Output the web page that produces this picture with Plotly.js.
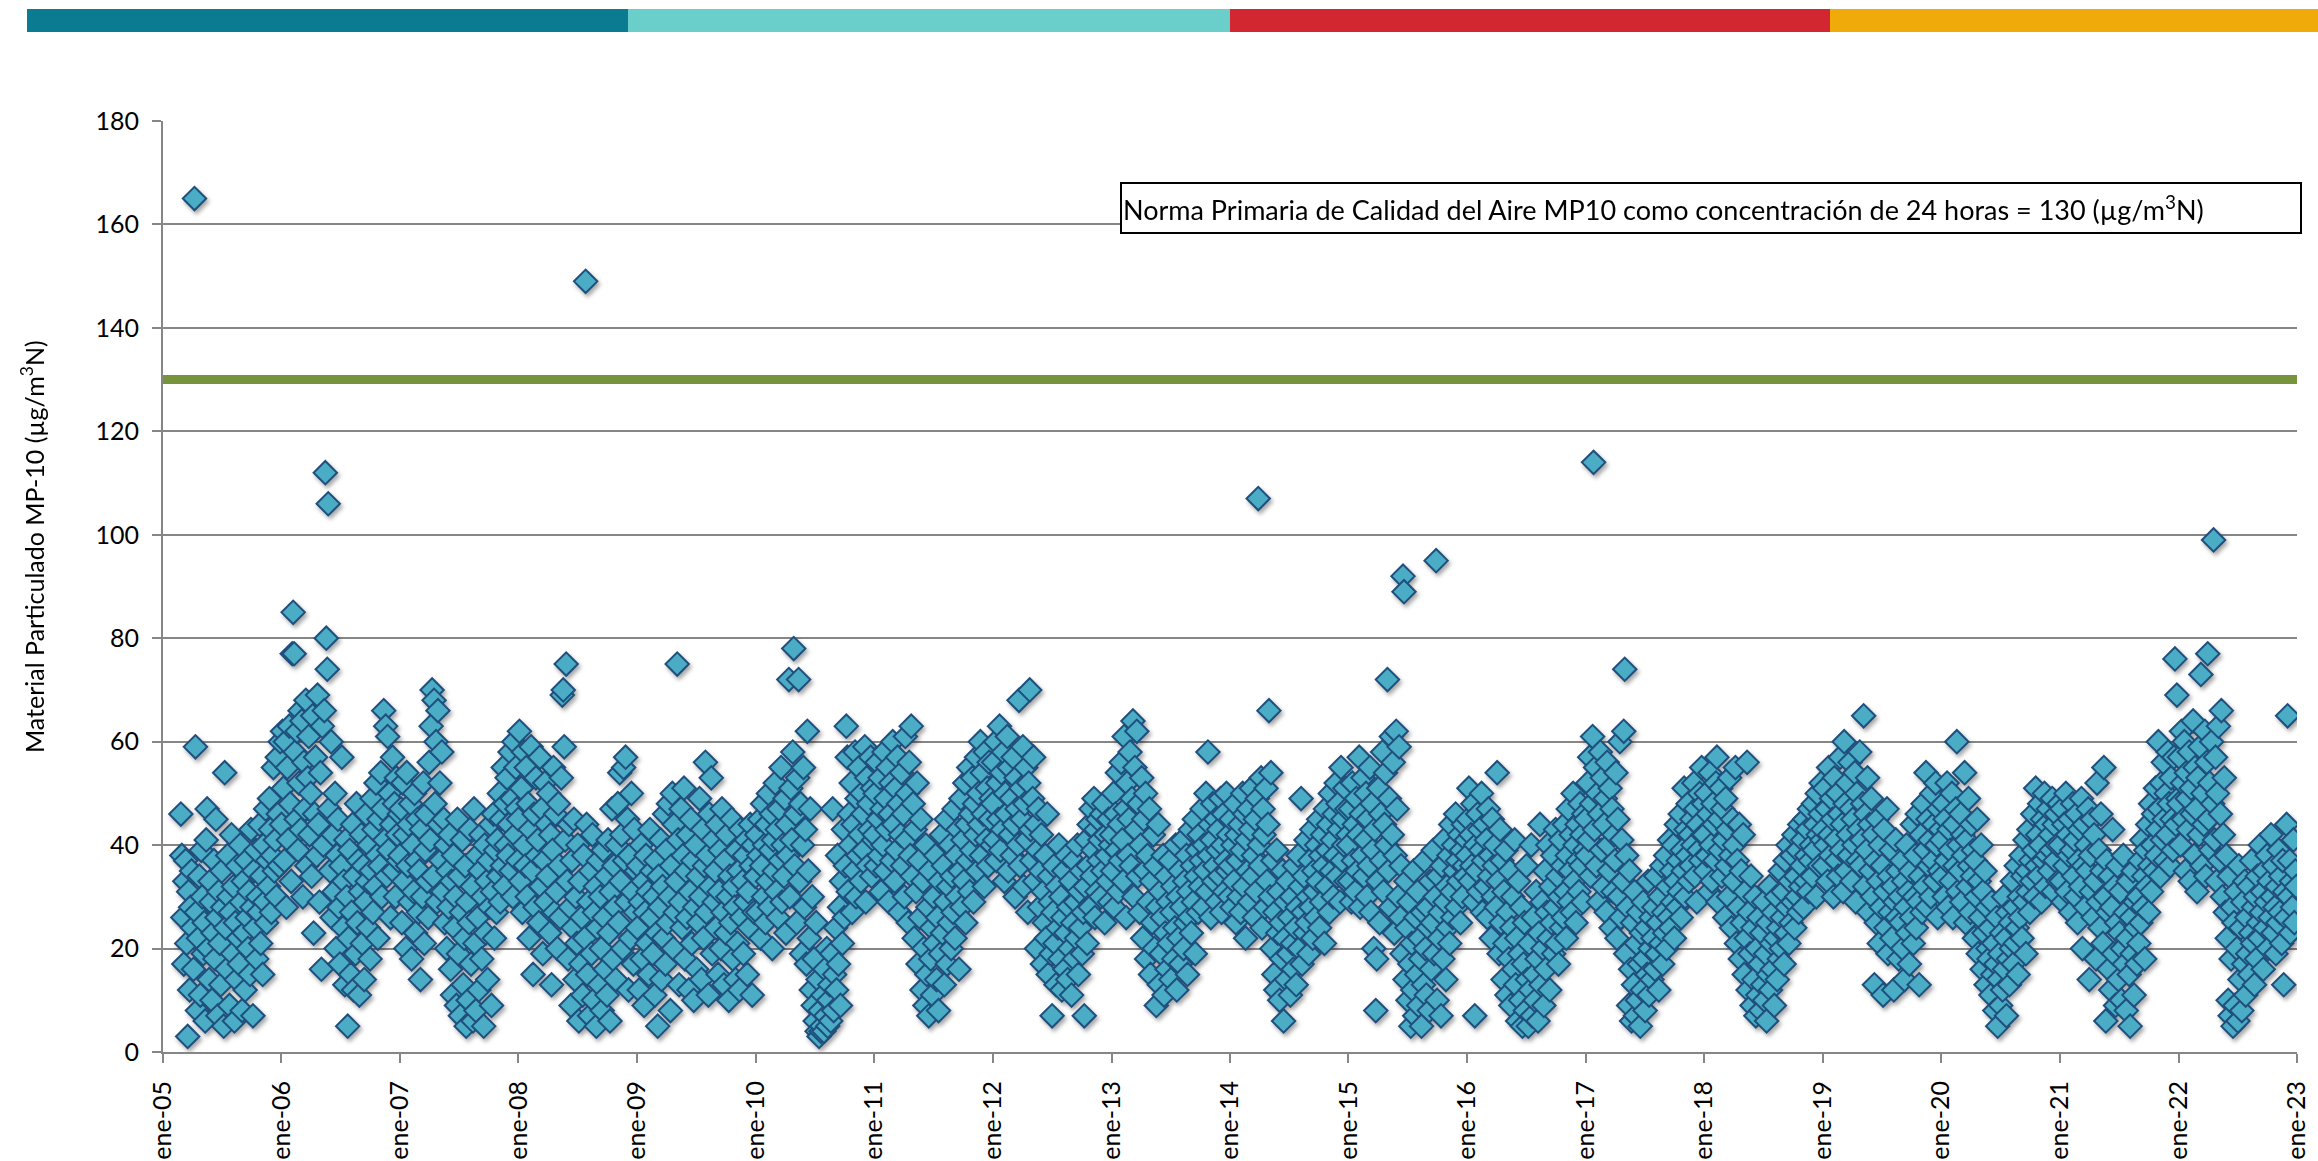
<!DOCTYPE html>
<html>
<head>
<meta charset="utf-8">
<script src="https://cdn.plot.ly/plotly-3.0.1.min.js"></script>
<style>
  html, body { margin: 0; padding: 0; background: #ffffff; }
  #chart { width: 2318px; height: 1161px; }
  .scatterlayer .trace:last-child .points { filter: drop-shadow(2px 3px 2px rgba(0,0,0,0.35)); }
</style>
</head>
<body>
<div id="chart"></div>
<script>
// ---------------- DATA ----------------
// MP-10 24-h concentrations (µg/m3N), one sample every 3 days, per year.
const SAMPLE_STEP_DAYS = 3;
const yearStarts = ['2005-02-25','2006-01-01','2007-01-01','2008-01-01','2009-01-01','2010-01-01',
  '2011-01-01','2012-01-01','2013-01-01','2014-01-01','2015-01-01','2016-01-01','2017-01-01',
  '2018-01-01','2019-01-01','2020-01-01','2021-01-01','2022-01-01'];

const mp10_2005 = [46,38,26,17,33,37,21,3,31,12, 28,35,24,16,165,59,27,8,22,34, 11,39,30,19,25,6,41,47,20,14,
  33,29,10,23,37,18,45,26,7,31, 21,13,35,28,5,54,24,16,38,30, 9,27,42,19,32,6,25,14,36,22,
  17,40,29,8,33,23,12,37,26,20, 31,15,43,28,7,35,24,39,18,30, 27,44,21,34,15,40,29,47,25,37,
  32,49,43,27,38,55,35,41,30,57,46,36,60];
const mp10_2006 = [44,62,51,37,60,28,55,41,63,48, 33,77,85,77,58,45,62,39,52,66, 43,64,30,56,47,68,36,53,61,42,
  50,34,65,23,46,57,38,69,44,29, 54,16,63,40,66,112,80,74,106,47, 35,60,26,42,31,50,20,38,45,28,
  17,36,57,24,33,13,41,30,5,22, 39,15,27,44,12,34,19,48,25,37, 11,31,42,21,36,14,29,46,33,24,
  40,18,35,49,27,43,32,52,38,22, 45,36,54,30,47,66,41,63,34,61, 39,50,26,44,57,35,48,30,53,42,37,46];
const mp10_2007 = [38,47,25,52,33,42,20,54,36,44, 29,48,18,40,31,50,23,37,45,27, 35,14,43,30,52,21,39,46,33,26,
  56,41,63,70,34,68,48,60,29,66, 44,52,37,58,31,45,25,40,20,35, 28,42,16,33,11,38,24,30,9,45,
  19,34,7,27,41,13,22,36,5,29, 10,25,43,17,32,6,47,21,8,38, 26,12,35,42,18,30,5,40,23,33,
  14,37,28,44,9,31,46,22,39,27, 41,34,50,29,45,36,55,32,48,40, 53,38,44,58,35,49,30,60,42,55,47,37];
const mp10_2008 = [45,62,33,51,27,58,40,36,55,30, 48,22,43,59,35,15,46,28,53,38, 41,25,57,32,47,19,37,52,29,44,
  34,50,23,42,13,39,55,27,46,31, 20,48,36,26,53,69,70,59,41,75, 33,18,44,28,9,37,24,45,14,30,
  21,40,6,33,17,26,11,38,22,149, 44,15,29,7,35,19,42,10,27,32, 5,24,37,13,30,20,8,39,26,16,
  34,11,41,23,6,31,47,18,36,28, 14,40,48,25,54,33,42,20,55,37, 57,29,45,12,38,22,50,31,17,43,27,35];
const mp10_2009 = [24,36,12,29,40,18,33,9,27,38, 21,31,15,43,26,35,19,30,11,37, 23,5,34,28,41,14,32,22,46,17,
  39,25,48,30,8,36,50,20,44,27, 33,75,41,13,29,47,24,38,51,18, 35,26,42,12,31,45,21,37,10,28,
  40,16,34,25,49,30,14,43,22,36, 56,27,38,11,46,32,53,19,41,29, 35,24,44,15,31,39,20,47,27,13,
  37,23,42,30,10,34,25,45,18,32, 28,14,39,21,35,12,43,26,33,19, 38,29,41,15,31,24,44,36,11,40,27,34];
const mp10_2010 = [34,42,27,38,45,22,36,48,30,40, 25,44,33,50,28,39,46,20,41,35, 52,31,43,26,47,37,55,29,40,34,
  49,23,44,38,72,30,51,41,58,78, 36,46,25,53,72,33,48,19,40,55, 28,43,17,62,35,22,47,12,30,9,
  18,6,25,4,14,3,8,4,5,11, 4,16,7,20,5,10,13,6,19,47, 8,15,24,12,38,17,28,9,33,21,
  43,26,36,63,57,31,46,40,52,27, 44,35,58,30,49,38,55,42,33,50, 46,39,59,29,53,36,48,43,57,34,51,41];
const mp10_2011 = [42,50,36,56,45,38,53,31,47,40, 58,35,49,43,55,29,46,52,37,60, 44,33,51,39,57,48,27,42,54,36,
  46,30,61,41,50,25,56,38,63,34, 48,22,43,31,52,17,37,26,45,12, 33,20,9,40,15,28,7,35,18,24,
  11,30,21,38,14,26,8,33,19,42, 23,36,13,29,45,17,32,25,40,20, 34,27,47,22,38,30,43,16,35,49,
  28,41,33,52,25,44,37,55,31,46, 39,53,29,48,42,57,35,50,44,60, 38,54,46,32,58,41,51,36,56,45,49,40];
const mp10_2012 = [48,56,41,60,37,52,45,63,39,54, 43,58,33,50,46,61,35,55,42,49, 38,57,44,30,53,47,40,68,36,51,
  45,59,32,48,55,41,27,52,70,43, 37,49,57,33,44,20,39,47,28,35, 42,17,31,25,38,22,46,15,34,29,
  19,7,27,36,21,13,32,24,40,18, 30,12,26,35,16,23,38,14,28,20, 33,11,25,37,18,29,22,40,15,31,
  24,35,19,27,7,32,41,21,36,44, 28,47,34,39,49,26,43,31,45,37, 41,30,46,35,48,25,42,38,33,45,29,40];
const mp10_2013 = [42,35,50,28,46,39,54,31,44,37, 56,41,33,61,47,26,52,38,45,58, 36,49,64,30,55,43,62,34,48,27,
  40,53,22,45,35,50,18,38,29,47, 15,33,25,42,20,36,9,28,44,13, 31,19,26,38,11,23,34,16,29,21,
  37,14,27,32,18,24,40,12,30,22, 35,17,28,41,20,33,25,38,15,31, 26,43,23,36,29,45,19,34,39,27,
  42,32,37,47,28,40,35,50,31,58, 38,44,26,41,48,33,36,45,29,39, 43,34,49,27,40,46,31,37,50,35,42,30];
const mp10_2014 = [36,45,28,40,33,48,25,42,37,30, 44,27,39,50,32,46,22,41,35,47, 29,43,51,34,38,26,45,31,49,107,
  40,36,53,24,47,42,28,51,33,44, 66,30,54,20,37,15,27,12,39,23, 31,10,25,18,35,6,22,29,14,33,
  19,26,11,30,21,16,36,24,13,28, 38,20,32,49,17,27,34,23,41,25, 30,19,37,28,43,22,35,31,26,40,
  33,45,24,38,29,42,36,21,47,32, 39,44,27,50,35,41,30,46,38,52, 34,48,43,29,55,37,45,40,51,33,47,42];
const mp10_2015 = [40,33,47,29,52,37,44,31,49,35, 42,57,28,46,38,53,34,41,50,30, 45,36,55,27,48,39,20,43,8,18,
  33,51,25,46,37,58,31,44,54,40, 72,35,49,28,61,42,56,23,38,62, 47,30,59,26,36,19,92,89,14,33,
  24,10,29,17,5,21,12,35,7,26, 15,31,9,22,18,5,27,13,37,20, 11,28,24,8,33,16,25,39,19,30,
  95,10,34,22,27,7,36,18,41,29, 14,32,24,38,21,44,31,26,40,35, 46,28,37,33,42,25,39,30,44,36,34,41];
const mp10_2016 = [38,45,51,33,42,36,48,29,7,40, 35,46,31,43,39,50,27,37,44,32, 41,26,47,34,38,22,45,30,36,40,
  28,54,33,19,43,25,37,14,31,21, 39,11,27,18,35,9,24,30,16,41, 13,22,6,33,19,10,28,5,17,25,
  8,36,14,5,21,12,40,7,26,15, 10,31,18,6,23,44,13,29,20,9, 35,16,27,40,22,12,32,25,38,19,
  28,43,21,34,17,30,41,24,36,26, 44,31,22,38,47,29,35,42,27,50, 33,40,25,44,37,31,48,36,42,29,46,39];
const mp10_2017 = [45,38,52,41,57,34,48,61,114,43, 55,36,50,29,46,58,39,53,32,44, 49,27,56,40,35,51,24,47,31,42,
  37,54,22,45,30,60,26,41,33,62, 74,19,38,28,9,35,16,6,25,13, 31,7,21,10,27,17,5,23,12,29,
  18,8,24,15,33,11,20,26,14,22, 28,16,34,19,25,12,30,21,36,17, 27,23,38,20,32,26,41,24,35,29,
  40,22,33,44,28,37,31,46,26,39, 35,51,30,43,38,48,33,42,36,45, 40,52,34,47,29,44,39,50,37,55,42,48];
const mp10_2018 = [42,35,50,38,46,31,54,40,33,48, 44,37,52,57,29,45,39,51,34,47, 41,26,49,36,43,30,53,38,24,45,
  33,40,55,21,37,28,44,18,35,25, 42,15,31,22,56,12,27,19,34,9, 24,14,30,7,20,11,26,17,8,23,
  13,29,10,19,6,25,15,32,12,21, 16,27,9,22,30,14,24,18,35,20, 26,31,17,37,23,28,40,21,33,25,
  38,29,42,24,34,30,39,27,44,32, 36,41,28,45,33,38,43,31,47,37, 40,34,48,39,44,30,50,42,36,46,52,41];
const mp10_2019 = [43,36,51,40,47,33,55,42,38,49, 45,30,53,41,37,50,34,46,57,39, 44,31,60,48,35,52,42,38,56,47,
  33,45,40,54,29,50,37,43,58,36, 41,48,65,32,46,39,53,27,44,35, 49,30,42,13,37,25,45,33,21,40,
  28,36,11,43,31,24,47,19,34,27, 39,22,32,12,29,41,26,35,18,30, 25,37,20,33,14,28,40,23,31,17,
  35,26,44,21,30,38,24,46,29,13, 34,42,27,48,32,39,54,28,45,36, 41,30,50,37,44,33,52,40,26,47,35,43];
const mp10_2020 = [41,34,48,30,45,37,52,28,43,39, 33,50,26,44,36,47,60,31,40,35, 46,29,42,38,54,25,41,32,49,36,
  27,44,34,39,22,37,30,45,19,33, 26,40,16,31,23,35,13,28,20,18, 24,11,29,15,21,8,17,26,5,14,
  19,9,23,12,30,16,22,7,27,18, 13,25,20,33,17,28,21,36,24,15, 30,26,38,22,34,29,41,19,35,31,
  43,27,37,33,46,39,30,51,36,42, 34,48,40,29,45,37,50,32,44,38, 47,35,42,39,49,31,44,37,46,40,33,48];
const mp10_2021 = [40,33,47,29,44,36,50,31,42,38, 45,27,39,48,34,41,30,46,25,37, 43,32,49,20,36,44,28,40,35,47,
  14,38,31,45,26,42,33,18,52,29, 39,24,46,35,21,55,30,6,37,27, 16,34,12,28,43,19,32,9,25,36,
  14,23,31,10,20,38,17,27,8,22, 33,15,5,26,19,35,11,29,24,17, 30,21,37,25,41,28,34,18,39,32,
  44,27,36,48,31,40,46,35,51,38, 43,60,47,34,52,41,56,45,37,50, 42,58,48,36,53,45,39,57,76,44,69,49];
const mp10_2022 = [48,57,40,62,52,45,60,35,54,49, 43,58,33,51,46,64,38,55,47,31, 53,42,59,73,36,50,44,62,34,56,
  77,45,52,39,60,48,99,41,57,33, 50,63,37,46,66,30,42,53,27,38, 22,10,34,7,18,28,5,25,9,31,
  20,6,36,14,24,8,29,17,33,11, 26,19,32,15,23,37,21,28,13,30, 18,34,25,22,40,27,31,16,35,24,
  29,38,20,33,26,42,30,23,36,28, 19,32,25,39,27,34,21,37,13,31, 26,44,65,30,37,23,33,28,41,25,35,32];

const yearlyValues = [mp10_2005, mp10_2006, mp10_2007, mp10_2008, mp10_2009, mp10_2010, mp10_2011,
  mp10_2012, mp10_2013, mp10_2014, mp10_2015, mp10_2016, mp10_2017, mp10_2018, mp10_2019,
  mp10_2020, mp10_2021, mp10_2022];

// Primary air-quality standard (24 h) for MP10
const normaValue = 130;
const normaSpan = ['2005-01-01', '2023-01-01'];

// x-axis ticks
const tickDates = ['2005-01-01','2006-01-01','2007-01-01','2008-01-01','2009-01-01','2010-01-01',
  '2011-01-01','2012-01-01','2013-01-01','2014-01-01','2015-01-01','2016-01-01','2017-01-01',
  '2018-01-01','2019-01-01','2020-01-01','2021-01-01','2022-01-01','2023-01-01'];
const tickLabels = ['ene-05','ene-06','ene-07','ene-08','ene-09','ene-10','ene-11','ene-12','ene-13',
  'ene-14','ene-15','ene-16','ene-17','ene-18','ene-19','ene-20','ene-21','ene-22','ene-23'];

const yTitle = 'Material Particulado MP-10 (µg/m<sup>3</sup>N)';
const normaText = 'Norma Primaria de Calidad del Aire MP10 como concentración de 24 horas = 130 (µg/m<sup>3</sup>N)';

// ---------------- BUILD ----------------
function sampleDates(start, n) {
  const t0 = Date.parse(start + 'T00:00:00Z');
  const out = [];
  for (let i = 0; i < n; i++) {
    out.push(new Date(t0 + i * SAMPLE_STEP_DAYS * 86400000).toISOString().slice(0, 10));
  }
  return out;
}
const xs = [], ys = [];
yearlyValues.forEach((vals, k) => {
  const d = sampleDates(yearStarts[k], vals.length);
  for (let i = 0; i < vals.length; i++) { xs.push(d[i]); ys.push(vals[i]); }
});

const FONT = 'Lato, "Open Sans", "DejaVu Sans", sans-serif';
const GRID = '#868686';

const traces = [
  {
    type: 'scatter', mode: 'lines',
    x: normaSpan, y: [normaValue, normaValue],
    line: { color: '#77933c', width: 9 },
    hoverinfo: 'skip', showlegend: false
  },
  {
    type: 'scatter', mode: 'markers',
    x: xs, y: ys,
    marker: { symbol: 'diamond', size: 18, color: '#4bacc6',
              line: { color: '#1f4f7c', width: 2 } },
    showlegend: false
  }
];

const PL = 163, PR = 2297, PT = 121, PB = 1052;
const W = PR - PL, H = PB - PT;
const px = v => (v - PL) / W;
const py = v => (PB - v) / H;

const barY0 = py(32), barY1 = py(9);
const barEdges = [27, 628, 1230, 1830, 2318];
const barColors = ['#0a7b90', '#6acfcb', '#d22630', '#f0ab0a'];
const shapes = barColors.map((c, i) => ({
  type: 'rect', xref: 'paper', yref: 'paper',
  x0: px(barEdges[i]), x1: px(barEdges[i + 1]), y0: barY0, y1: barY1,
  fillcolor: c, line: { width: 0 }, layer: 'above'
}));

const layout = {
  width: 2318, height: 1161,
  margin: { l: PL, r: 2318 - PR, t: PT, b: 1161 - PB, pad: 0 },
  paper_bgcolor: '#ffffff', plot_bgcolor: '#ffffff',
  font: { family: FONT, color: '#000000', size: 25 },
  showlegend: false,
  xaxis: {
    type: 'date', range: ['2005-01-01', '2023-01-01'],
    tickmode: 'array', tickvals: tickDates, ticktext: tickLabels,
    tickangle: -90, ticks: 'outside', ticklen: 9, tickwidth: 2, tickcolor: GRID,
    showline: true, linecolor: GRID, linewidth: 2,
    showgrid: false, zeroline: false,
    tickfont: { family: FONT, size: 25, color: '#000000' },
    ticklabelstandoff: 8
  },
  yaxis: {
    range: [0, 180], tickmode: 'linear', tick0: 0, dtick: 20,
    ticks: 'outside', ticklen: 9, tickwidth: 2, tickcolor: GRID,
    showline: true, linecolor: GRID, linewidth: 2,
    showgrid: true, gridcolor: GRID, gridwidth: 2, zeroline: false,
    tickfont: { family: FONT, size: 25, color: '#000000' },
    ticklabelstandoff: 8
  },
  shapes: shapes,
  annotations: [
    {
      xref: 'paper', yref: 'paper', x: px(32), y: py(547),
      xanchor: 'center', yanchor: 'middle', textangle: -90,
      text: yTitle, showarrow: false,
      font: { family: FONT, size: 25, color: '#000000' }
    },
    {
      xref: 'paper', yref: 'paper', x: px(1120), y: py(182),
      xanchor: 'left', yanchor: 'top', align: 'left',
      width: 1176, height: 46, borderpad: 1,
      text: normaText, showarrow: false,
      bgcolor: '#ffffff', bordercolor: '#000000', borderwidth: 2,
      font: { family: FONT, size: 27, color: '#000000' }
    }
  ]
};

Plotly.newPlot('chart', traces, layout, { displayModeBar: false, staticPlot: true });
</script>
</body>
</html>
